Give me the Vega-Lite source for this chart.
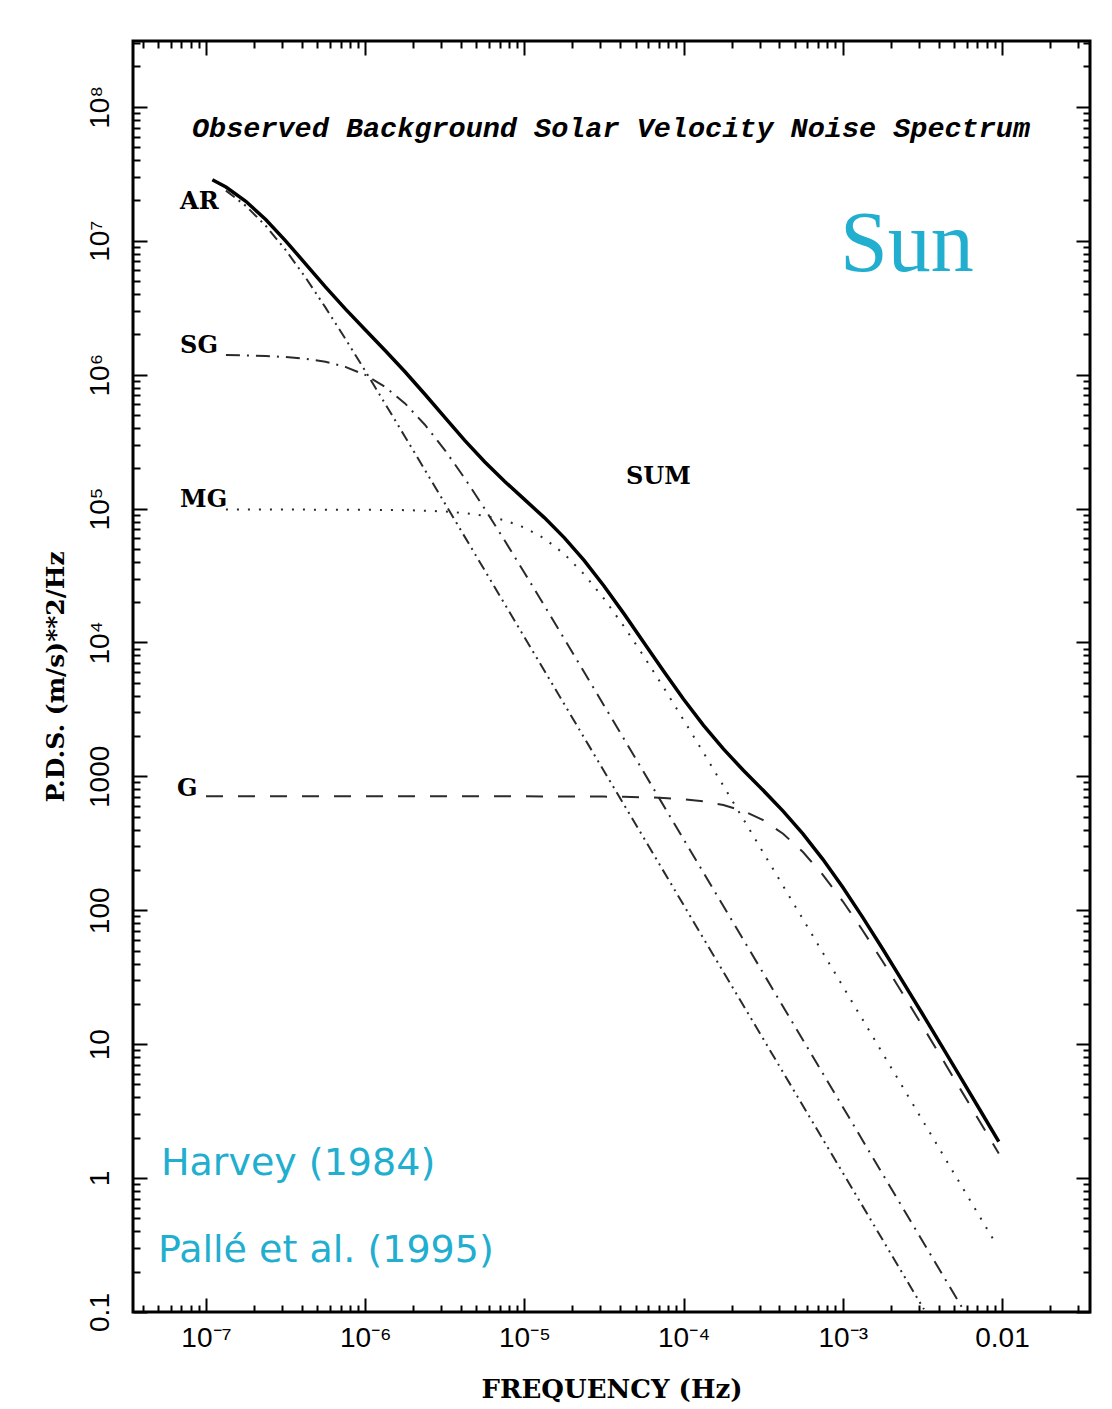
{
  "$schema": "https://vega.github.io/schema/vega-lite/v6.json",
  "width": 957,
  "height": 1271,
  "autosize": {"type": "none"},
  "padding": {"left": 133, "top": 41, "right": 22, "bottom": 97},
  "background": "white",
  "config": {
    "view": {"stroke": "black", "strokeWidth": 3},
    "axis": {"domain": false, "grid": false, "tickColor": "black", "tickWidth": 2, "labelFont": "Liberation Sans", "labelFontSize": 28, "labelColor": "black", "labelOverlap": false, "labelFlush": false}
  },
  "datasets": {
    "components": [
      {"component": "AR", "f": 1.334e-7, "p": 2.366e7},
      {"component": "AR", "f": 1.778e-7, "p": 1.820e7},
      {"component": "AR", "f": 2.371e-7, "p": 1.293e7},
      {"component": "AR", "f": 3.162e-7, "p": 8.531e6},
      {"component": "AR", "f": 4.217e-7, "p": 5.313e6},
      {"component": "AR", "f": 5.623e-7, "p": 3.177e6},
      {"component": "AR", "f": 7.499e-7, "p": 1.854e6},
      {"component": "AR", "f": 1e-6, "p": 1.067e6},
      {"component": "AR", "f": 1.334e-6, "p": 6.067e5},
      {"component": "AR", "f": 1.778e-6, "p": 3.436e5},
      {"component": "AR", "f": 2.371e-6, "p": 1.940e5},
      {"component": "AR", "f": 3.162e-6, "p": 1.094e5},
      {"component": "AR", "f": 5.623e-6, "p": 3.467e4},
      {"component": "AR", "f": 1e-5, "p": 1.096e4},
      {"component": "AR", "f": 1e-4, "p": 109.6},
      {"component": "AR", "f": 1e-3, "p": 1.096},
      {"component": "AR", "f": 3.236e-3, "p": 0.1047},
      {"component": "SG", "f": 1.334e-7, "p": 1.400e6},
      {"component": "SG", "f": 1.778e-7, "p": 1.390e6},
      {"component": "SG", "f": 2.371e-7, "p": 1.377e6},
      {"component": "SG", "f": 3.162e-7, "p": 1.352e6},
      {"component": "SG", "f": 4.217e-7, "p": 1.312e6},
      {"component": "SG", "f": 5.623e-7, "p": 1.247e6},
      {"component": "SG", "f": 7.499e-7, "p": 1.143e6},
      {"component": "SG", "f": 1e-6, "p": 9.954e5},
      {"component": "SG", "f": 1.334e-6, "p": 8.110e5},
      {"component": "SG", "f": 1.778e-6, "p": 6.095e5},
      {"component": "SG", "f": 2.371e-6, "p": 4.227e5},
      {"component": "SG", "f": 3.162e-6, "p": 2.735e5},
      {"component": "SG", "f": 4.217e-6, "p": 1.682e5},
      {"component": "SG", "f": 5.623e-6, "p": 9.977e4},
      {"component": "SG", "f": 7.499e-6, "p": 5.793e4},
      {"component": "SG", "f": 1e-5, "p": 3.319e4},
      {"component": "SG", "f": 1.334e-5, "p": 1.885e4},
      {"component": "SG", "f": 1.778e-5, "p": 1.067e4},
      {"component": "SG", "f": 2.371e-5, "p": 6016},
      {"component": "SG", "f": 3.162e-5, "p": 3388},
      {"component": "SG", "f": 1e-4, "p": 339.6},
      {"component": "SG", "f": 1e-3, "p": 3.396},
      {"component": "SG", "f": 5.69e-3, "p": 0.105},
      {"component": "MG", "f": 1.334e-7, "p": 9.84e4},
      {"component": "MG", "f": 1e-6, "p": 9.795e4},
      {"component": "MG", "f": 1.778e-6, "p": 9.727e4},
      {"component": "MG", "f": 2.371e-6, "p": 9.638e4},
      {"component": "MG", "f": 3.162e-6, "p": 9.506e4},
      {"component": "MG", "f": 4.217e-6, "p": 9.244e4},
      {"component": "MG", "f": 5.623e-6, "p": 8.831e4},
      {"component": "MG", "f": 7.499e-6, "p": 8.172e4},
      {"component": "MG", "f": 1e-5, "p": 7.211e4},
      {"component": "MG", "f": 1.334e-5, "p": 5.979e4},
      {"component": "MG", "f": 1.778e-5, "p": 4.581e4},
      {"component": "MG", "f": 2.371e-5, "p": 3.234e4},
      {"component": "MG", "f": 3.162e-5, "p": 2.123e4},
      {"component": "MG", "f": 4.217e-5, "p": 1.3195e4},
      {"component": "MG", "f": 5.623e-5, "p": 7889},
      {"component": "MG", "f": 7.499e-5, "p": 4594},
      {"component": "MG", "f": 1e-4, "p": 2636},
      {"component": "MG", "f": 1.334e-4, "p": 1501},
      {"component": "MG", "f": 1.778e-4, "p": 849.2},
      {"component": "MG", "f": 2.371e-4, "p": 479.6},
      {"component": "MG", "f": 3.162e-4, "p": 270.4},
      {"component": "MG", "f": 1e-3, "p": 27.10},
      {"component": "MG", "f": 9.12e-3, "p": 0.326},
      {"component": "G", "f": 1e-7, "p": 710},
      {"component": "G", "f": 1e-5, "p": 709.6},
      {"component": "G", "f": 3.162e-5, "p": 706},
      {"component": "G", "f": 4.217e-5, "p": 703.3},
      {"component": "G", "f": 5.623e-5, "p": 698},
      {"component": "G", "f": 7.499e-5, "p": 690.0},
      {"component": "G", "f": 1e-4, "p": 674.5},
      {"component": "G", "f": 1.334e-4, "p": 650.8},
      {"component": "G", "f": 1.778e-4, "p": 610.9},
      {"component": "G", "f": 2.371e-4, "p": 551.9},
      {"component": "G", "f": 3.162e-4, "p": 471.0},
      {"component": "G", "f": 4.217e-4, "p": 372.7},
      {"component": "G", "f": 5.623e-4, "p": 272.3},
      {"component": "G", "f": 7.499e-4, "p": 183.9},
      {"component": "G", "f": 1e-3, "p": 116.7},
      {"component": "G", "f": 1.334e-3, "p": 70.70},
      {"component": "G", "f": 1.778e-3, "p": 41.59},
      {"component": "G", "f": 2.371e-3, "p": 23.99},
      {"component": "G", "f": 3.162e-3, "p": 13.71},
      {"component": "G", "f": 4.217e-3, "p": 7.767},
      {"component": "G", "f": 5.623e-3, "p": 4.385},
      {"component": "G", "f": 9.55e-3, "p": 1.528}
    ],
    "sum": [
      {"f": 1.096e-7, "p": 2.854e7},
      {"f": 1.334e-7, "p": 2.516e7},
      {"f": 1.778e-7, "p": 1.969e7},
      {"f": 2.371e-7, "p": 1.4406e7},
      {"f": 3.162e-7, "p": 9.982e6},
      {"f": 4.217e-7, "p": 6.724e6},
      {"f": 5.623e-7, "p": 4.523e6},
      {"f": 7.499e-7, "p": 3.096e6},
      {"f": 1e-6, "p": 2.161e6},
      {"f": 1.334e-6, "p": 1.516e6},
      {"f": 1.778e-6, "p": 1.051e6},
      {"f": 2.371e-6, "p": 7.138e5},
      {"f": 3.162e-6, "p": 4.787e5},
      {"f": 4.217e-6, "p": 3.229e5},
      {"f": 5.623e-6, "p": 2.235e5},
      {"f": 7.499e-6, "p": 1.599e5},
      {"f": 1e-5, "p": 1.170e5},
      {"f": 1.334e-5, "p": 8.552e4},
      {"f": 1.778e-5, "p": 6.066e4},
      {"f": 2.371e-5, "p": 4.101e4},
      {"f": 3.162e-5, "p": 2.642e4},
      {"f": 4.217e-5, "p": 1.642e4},
      {"f": 5.623e-5, "p": 1.001e4},
      {"f": 7.499e-5, "p": 6083},
      {"f": 1e-4, "p": 3760},
      {"f": 1.334e-4, "p": 2404.5},
      {"f": 1.778e-4, "p": 1602},
      {"f": 2.371e-4, "p": 1111.4},
      {"f": 3.162e-4, "p": 786.3},
      {"f": 4.217e-4, "p": 550.1},
      {"f": 5.623e-4, "p": 372.2},
      {"f": 7.499e-4, "p": 240.1},
      {"f": 1e-3, "p": 148.3},
      {"f": 1.334e-3, "p": 88.46},
      {"f": 1.778e-3, "p": 51.58},
      {"f": 2.371e-3, "p": 29.61},
      {"f": 3.162e-3, "p": 16.87},
      {"f": 4.217e-3, "p": 9.544},
      {"f": 5.623e-3, "p": 5.384},
      {"f": 7.499e-3, "p": 3.036},
      {"f": 9.55e-3, "p": 1.874}
    ],
    "labels": [
      {"name": "AR", "f": 6.87e-8, "p": 1.95e7},
      {"name": "SG", "f": 6.87e-8, "p": 1.64e6},
      {"name": "MG", "f": 6.87e-8, "p": 1.16e5},
      {"name": "G", "f": 6.58e-8, "p": 807},
      {"name": "SUM", "f": 4.35e-5, "p": 1.73e5}
    ],
    "heading": [
      {"text": "Observed Background Solar Velocity Noise Spectrum", "f": 3.5e-5, "p": 6.97e7}
    ],
    "star": [
      {"text": "Sun", "f": 2.53e-3, "p": 5.96e6}
    ],
    "refs": [
      {"text": "Harvey (1984)", "f": 5.21e-8, "p": 1.06},
      {"text": "Pallé et al. (1995)", "f": 4.99e-8, "p": 0.237}
    ]
  },
  "layer": [
    {
      "data": {"name": "components"},
      "mark": {"type": "line", "strokeWidth": 2, "color": "#2a2a2a", "clip": true},
      "encoding": {
        "x": {
          "field": "f", "type": "quantitative",
          "scale": {"type": "log", "domain": [3.478e-8, 0.03573], "nice": false},
          "axis": {
            "orient": "bottom",
            "values": [1e-7, 1e-6, 1e-5, 1e-4, 1e-3, 1e-2],
            "tickSize": -14,
            "labelPadding": 26,
            "labelExpr": "datum.value == 1e-7 ? '10⁻⁷' : datum.value == 1e-6 ? '10⁻⁶' : datum.value == 1e-5 ? '10⁻⁵' : datum.value == 1e-4 ? '10⁻⁴' : datum.value == 1e-3 ? '10⁻³' : '0.01'",
            "title": "FREQUENCY (Hz)",
            "titleFont": "DejaVu Serif",
            "titleFontSize": 26,
            "titleFontWeight": "bold",
            "titleColor": "black",
            "titlePadding": 24
          }
        },
        "y": {
          "field": "p", "type": "quantitative",
          "scale": {"type": "log", "domain": [0.1, 3.1e8], "nice": false},
          "axis": {
            "orient": "left",
            "values": [0.1, 1, 10, 100, 1000, 10000, 100000, 1000000, 10000000, 100000000],
            "tickSize": -14,
            "labelPadding": 33,
            "labelAngle": -90,
            "labelAlign": "center",
            "labelBaseline": "bottom",
            "labelExpr": "datum.value == 0.1 ? '0.1' : datum.value == 1 ? '1' : datum.value == 10 ? '10' : datum.value == 100 ? '100' : datum.value == 1000 ? '1000' : datum.value == 10000 ? '10⁴' : datum.value == 100000 ? '10⁵' : datum.value == 1000000 ? '10⁶' : datum.value == 10000000 ? '10⁷' : '10⁸'",
            "title": "P.D.S. (m/s)**2/Hz",
            "titleFont": "DejaVu Serif",
            "titleFontSize": 25,
            "titleFontWeight": "bold",
            "titleColor": "black",
            "titlePadding": 18
          }
        },
        "strokeDash": {
          "field": "component", "type": "nominal",
          "scale": {"domain": ["AR", "SG", "MG", "G"], "range": [[11, 5, 2, 5, 2, 5], [14, 7, 2, 7], [2, 9], [17, 15]]},
          "legend": null
        }
      }
    },
    {
      "data": {"name": "sum"},
      "mark": {"type": "line", "strokeWidth": 3.5, "color": "black", "clip": true},
      "encoding": {
        "x": {
          "field": "f", "type": "quantitative",
          "scale": {"type": "log", "domain": [3.478e-8, 0.03573], "nice": false},
          "axis": {"orient": "top", "values": [1e-7, 1e-6, 1e-5, 1e-4, 1e-3, 1e-2], "tickSize": -14, "labels": false, "title": null}
        },
        "y": {
          "field": "p", "type": "quantitative",
          "scale": {"type": "log", "domain": [0.1, 3.1e8], "nice": false},
          "axis": {"orient": "right", "values": [0.1, 1, 10, 100, 1000, 10000, 100000, 1000000, 10000000, 100000000], "tickSize": -14, "labels": false, "title": null}
        }
      }
    },
    {
      "data": {"name": "labels"},
      "mark": {"type": "text", "align": "left", "baseline": "middle", "font": "DejaVu Serif", "fontWeight": "bold", "fontSize": 24, "color": "black"},
      "encoding": {
        "x": {
          "field": "f", "type": "quantitative",
          "scale": {"type": "log", "domain": [3.478e-8, 0.03573], "nice": false},
          "axis": {"orient": "bottom", "tickSize": -7, "labels": false, "title": null,
            "values": [4e-8, 5e-8, 6e-8, 7e-8, 8e-8, 9e-8, 2e-7, 3e-7, 4e-7, 5e-7, 6e-7, 7e-7, 8e-7, 9e-7, 2e-6, 3e-6, 4e-6, 5e-6, 6e-6, 7e-6, 8e-6, 9e-6, 2e-5, 3e-5, 4e-5, 5e-5, 6e-5, 7e-5, 8e-5, 9e-5, 2e-4, 3e-4, 4e-4, 5e-4, 6e-4, 7e-4, 8e-4, 9e-4, 2e-3, 3e-3, 4e-3, 5e-3, 6e-3, 7e-3, 8e-3, 9e-3, 2e-2, 3e-2]}
        },
        "y": {
          "field": "p", "type": "quantitative",
          "scale": {"type": "log", "domain": [0.1, 3.1e8], "nice": false},
          "axis": {"orient": "left", "tickSize": -7, "labels": false, "title": null,
            "values": [0.2, 0.3, 0.4, 0.5, 0.6, 0.7, 0.8, 0.9, 2, 3, 4, 5, 6, 7, 8, 9, 20, 30, 40, 50, 60, 70, 80, 90, 200, 300, 400, 500, 600, 700, 800, 900, 2000, 3000, 4000, 5000, 6000, 7000, 8000, 9000, 20000, 30000, 40000, 50000, 60000, 70000, 80000, 90000, 200000, 300000, 400000, 500000, 600000, 700000, 800000, 900000, 2000000, 3000000, 4000000, 5000000, 6000000, 7000000, 8000000, 9000000, 20000000, 30000000, 40000000, 50000000, 60000000, 70000000, 80000000, 90000000, 200000000, 300000000]}
        },
        "text": {"field": "name"}
      }
    },
    {
      "data": {"name": "heading"},
      "mark": {"type": "text", "align": "center", "baseline": "middle", "font": "Liberation Mono", "fontWeight": "bold", "fontStyle": "italic", "fontSize": 28.5, "color": "black"},
      "encoding": {
        "x": {
          "field": "f", "type": "quantitative",
          "scale": {"type": "log", "domain": [3.478e-8, 0.03573], "nice": false},
          "axis": {"orient": "top", "tickSize": -7, "labels": false, "title": null,
            "values": [4e-8, 5e-8, 6e-8, 7e-8, 8e-8, 9e-8, 2e-7, 3e-7, 4e-7, 5e-7, 6e-7, 7e-7, 8e-7, 9e-7, 2e-6, 3e-6, 4e-6, 5e-6, 6e-6, 7e-6, 8e-6, 9e-6, 2e-5, 3e-5, 4e-5, 5e-5, 6e-5, 7e-5, 8e-5, 9e-5, 2e-4, 3e-4, 4e-4, 5e-4, 6e-4, 7e-4, 8e-4, 9e-4, 2e-3, 3e-3, 4e-3, 5e-3, 6e-3, 7e-3, 8e-3, 9e-3, 2e-2, 3e-2]}
        },
        "y": {
          "field": "p", "type": "quantitative",
          "scale": {"type": "log", "domain": [0.1, 3.1e8], "nice": false},
          "axis": {"orient": "right", "tickSize": -7, "labels": false, "title": null,
            "values": [0.2, 0.3, 0.4, 0.5, 0.6, 0.7, 0.8, 0.9, 2, 3, 4, 5, 6, 7, 8, 9, 20, 30, 40, 50, 60, 70, 80, 90, 200, 300, 400, 500, 600, 700, 800, 900, 2000, 3000, 4000, 5000, 6000, 7000, 8000, 9000, 20000, 30000, 40000, 50000, 60000, 70000, 80000, 90000, 200000, 300000, 400000, 500000, 600000, 700000, 800000, 900000, 2000000, 3000000, 4000000, 5000000, 6000000, 7000000, 8000000, 9000000, 20000000, 30000000, 40000000, 50000000, 60000000, 70000000, 80000000, 90000000, 200000000, 300000000]}
        },
        "text": {"field": "text"}
      }
    },
    {
      "data": {"name": "star"},
      "mark": {"type": "text", "align": "center", "baseline": "alphabetic", "font": "Liberation Serif", "fontSize": 86, "color": "#21aecf"},
      "encoding": {
        "x": {"field": "f", "type": "quantitative", "scale": {"type": "log", "domain": [3.478e-8, 0.03573], "nice": false}, "axis": null},
        "y": {"field": "p", "type": "quantitative", "scale": {"type": "log", "domain": [0.1, 3.1e8], "nice": false}, "axis": null},
        "text": {"field": "text"}
      }
    },
    {
      "data": {"name": "refs"},
      "mark": {"type": "text", "align": "left", "baseline": "alphabetic", "font": "DejaVu Sans", "fontSize": 38, "color": "#21aecf"},
      "encoding": {
        "x": {"field": "f", "type": "quantitative", "scale": {"type": "log", "domain": [3.478e-8, 0.03573], "nice": false}, "axis": null},
        "y": {"field": "p", "type": "quantitative", "scale": {"type": "log", "domain": [0.1, 3.1e8], "nice": false}, "axis": null},
        "text": {"field": "text"}
      }
    }
  ],
  "resolve": {"axis": {"x": "independent", "y": "independent"}}
}
